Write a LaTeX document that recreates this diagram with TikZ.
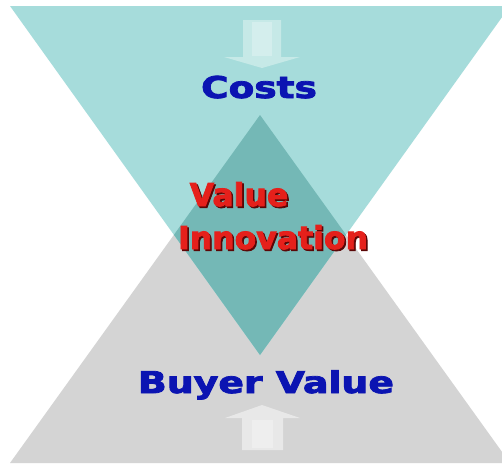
\documentclass[tikz,border=0pt]{standalone}
\usepackage{graphicx}
\usepackage{fontspec}
\newfontfamily\heavy{DejaVu Sans Bold}[FakeBold=2.5]
\definecolor{tealL}{HTML}{A6DCDB}
\definecolor{tealD}{HTML}{74B8B6}
\definecolor{greyL}{HTML}{D4D4D4}
\definecolor{arrT}{HTML}{C6E9E7}
\definecolor{arrB}{HTML}{E8E8E8}
\definecolor{txtblue}{HTML}{0B14B2}
\definecolor{txtred}{HTML}{E5201B}
\definecolor{shadowred}{HTML}{5A0606}
\newcommand\redshadow[1]{\makebox[0pt][l]{\raisebox{-1.6pt}{\kern1.6pt\color{shadowred}#1}}#1}
\tikzset{
  bluetext/.style={text=txtblue, font=\heavy\fontsize{30}{32}\selectfont, inner sep=0pt, anchor=base},
  redtext/.style={text=txtred, font=\heavy\fontsize{31.5}{33}\selectfont, inner sep=0pt, anchor=base},
}
\begin{document}
\begin{tikzpicture}[x=1pt,y=-1pt]
\useasboundingbox (0,0) rectangle (502,467);
\fill[white] (0,0) rectangle (502,467);
\clip (0,0) rectangle (502,467);
% triangle corners
\coordinate (tl) at (10,6);
\coordinate (tr) at (510,6);
\coordinate (ta) at (260,355);
\coordinate (bl) at (10,463);
\coordinate (br) at (510,463);
\coordinate (ba) at (260,115);
% bottom (grey) triangle
\fill[greyL] (bl) -- (br) -- (ba) -- cycle;
% top (teal) triangle
\fill[tealL] (tl) -- (tr) -- (ta) -- cycle;
% overlap
\begin{scope}
  \clip (tl) -- (tr) -- (ta) -- cycle;
  \fill[tealD] (bl) -- (br) -- (ba) -- cycle;
\end{scope}
% top arrow (down)
\fill[arrT] (243,20) -- (281,20) -- (281,57) -- (300,57) -- (262,68) -- (224,57) -- (243,57) -- cycle;
\fill[white, opacity=0.25] (252,22) -- (272,22) -- (272,56) -- (252,56) -- cycle;
% bottom arrow (up)
\fill[arrB] (242,450) -- (283,450) -- (283,418) -- (300,418) -- (262,405) -- (225,418) -- (242,418) -- cycle;
\fill[white, opacity=0.3] (252,448) -- (273,448) -- (273,420) -- (252,420) -- cycle;
% texts
\node[bluetext] (costs) at (259,98) {\scalebox{1.25}[1]{Costs}};
\node[bluetext] (buyer) at (266,393) {\scalebox{1.26}[1]{Buyer Value}};
\node[redtext] (value) at (239,206) {\redshadow{Value}};
\node[redtext] (innov) at (273,249) {\redshadow{Innovation}};
\end{tikzpicture}
\end{document}
